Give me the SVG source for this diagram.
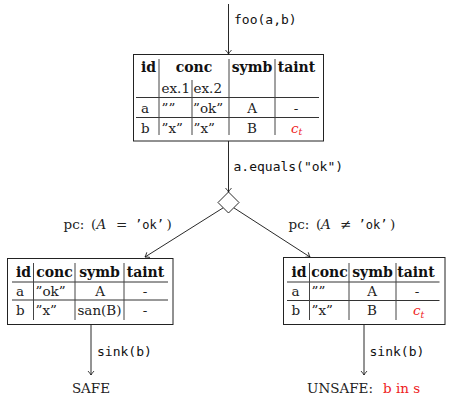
<svg xmlns="http://www.w3.org/2000/svg" width="449" height="403" viewBox="0 0 449 403">
<style>
.t{font-family:"DejaVu Serif","Liberation Serif",serif;font-size:13.5px;fill:#222}
.h{font-family:"DejaVu Serif","Liberation Serif",serif;font-size:14px;font-weight:bold;fill:#111}
.m{font-family:"DejaVu Sans Mono","Liberation Mono",monospace;font-size:13px;fill:#111}
.ms{font-family:"DejaVu Sans Mono","Liberation Mono",monospace;font-size:12px;fill:#111}
.mid{text-anchor:middle}
.red{fill:#ee2222}
.box{fill:#fff;stroke:#222;stroke-width:1}
.rule{stroke:#333;stroke-width:1}
.vl{stroke:#444;stroke-width:1}
.edge{fill:none;stroke:#111;stroke-width:0.9;marker-end:url(#ah)}
</style>
<defs>
<marker id="ah" viewBox="-5 -4 6 8" refX="0" refY="0" markerWidth="6" markerHeight="8" orient="auto" markerUnits="userSpaceOnUse">
<path d="M-4,-3 Q-1.5,-0.8 0,0 Q-1.5,0.8 -4,3" fill="none" stroke="#111" stroke-width="0.8"/>
</marker>
</defs>

<g id="connectors">
<path class="edge" d="M228.5,4 L228.5,54"/>
<path class="edge" d="M228.5,141 L228.5,192"/>
<path class="edge" d="M223.2,207.8 L145,257"/>
<path class="edge" d="M233.8,207.8 L310,257"/>
<path class="edge" d="M91,325 L91,375"/>
<path class="edge" d="M364,325 L364,375"/>
<text class="m" x="234" y="24">foo(a,b)</text>
<text class="m" x="233.5" y="171">a.equals("ok")</text>
<text class="t" y="229"><tspan x="63.5">pc:</tspan><tspan x="91">(</tspan><tspan x="96.5" font-style="italic">A</tspan><tspan x="116">=</tspan></text>
<text class="ms" x="135" y="229">’ok’</text>
<text class="t" x="166.5" y="229">)</text>
<text class="t" y="229"><tspan x="288.5">pc:</tspan><tspan x="316">(</tspan><tspan x="321" font-style="italic">A</tspan><tspan x="340">≠</tspan></text>
<text class="ms" x="358.5" y="229">’ok’</text>
<text class="t" x="390" y="229">)</text>
<text class="m" x="97" y="355.5">sink(b)</text>
<text class="m" x="369.5" y="355.5">sink(b)</text>
</g>

<g id="state-init">
<rect class="box" x="133.5" y="54.5" width="190" height="86.5"/>
<line class="rule" x1="136" y1="97.5" x2="319" y2="97.5"/>
<line class="rule" x1="136" y1="117.5" x2="319" y2="117.5"/>
<line class="vl" x1="159" y1="59" x2="159" y2="135"/>
<line class="vl" x1="192" y1="80" x2="192" y2="135"/>
<line class="vl" x1="229" y1="59" x2="229" y2="135"/>
<line class="vl" x1="275" y1="59" x2="275" y2="135"/>
<text class="h mid" x="148.5" y="72">id</text>
<text class="h mid" x="194" y="72">conc</text>
<text class="h mid" x="252" y="72">symb</text>
<text class="h mid" x="296.5" y="72">taint</text>
<text class="t" x="161.5" y="92.5">ex.1</text>
<text class="t" x="193.5" y="92.5">ex.2</text>
<text class="t" x="141" y="112.5">a</text>
<text class="t" x="161.5" y="112.5">””</text>
<text class="t" x="193" y="112.5">”ok”</text>
<text class="t mid" x="252" y="112.5">A</text>
<text class="t mid" x="296" y="112.5">-</text>
<text class="t" x="141" y="132.5">b</text>
<text class="t" x="161.5" y="132.5">”x”</text>
<text class="t" x="193.5" y="132.5">”x”</text>
<text class="t mid" x="252" y="132.5">B</text>
<text class="t red" x="291" y="132.5"><tspan font-style="italic">c</tspan><tspan font-style="italic" font-size="9.5px" dy="2.5">t</tspan></text>
</g>

<g id="branch">
<polygon points="228.5,192 239,202.5 228.5,213 218,202.5" fill="#fff" stroke="#111" stroke-width="0.9"/>
</g>

<g id="state-safe">
<rect class="box" x="7.5" y="258.5" width="165.5" height="66"/>
<line class="rule" x1="12" y1="282" x2="168" y2="282"/>
<line class="rule" x1="12" y1="300" x2="168" y2="300"/>
<line class="vl" x1="33.5" y1="263" x2="33.5" y2="320"/>
<line class="vl" x1="75" y1="263" x2="75" y2="320"/>
<line class="vl" x1="124" y1="263" x2="124" y2="320"/>
<text class="h mid" x="23.5" y="277">id</text>
<text class="h mid" x="54.5" y="277">conc</text>
<text class="h mid" x="99.5" y="277">symb</text>
<text class="h mid" x="145.5" y="277">taint</text>
<text class="t" x="16" y="295.5">a</text>
<text class="t" x="35.5" y="295.5">”ok”</text>
<text class="t mid" x="100" y="295.5">A</text>
<text class="t mid" x="145" y="295.5">-</text>
<text class="t" x="16" y="315">b</text>
<text class="t" x="35.5" y="315">”x”</text>
<text class="t mid" x="99.5" y="315">san(B)</text>
<text class="t mid" x="145" y="315">-</text>
</g>

<g id="state-unsafe">
<rect class="box" x="283.5" y="257.5" width="161.5" height="67"/>
<line class="rule" x1="287" y1="282" x2="439.5" y2="282"/>
<line class="rule" x1="287" y1="300.5" x2="439.5" y2="300.5"/>
<line class="vl" x1="309.5" y1="263" x2="309.5" y2="320"/>
<line class="vl" x1="349" y1="263" x2="349" y2="320"/>
<line class="vl" x1="396" y1="263" x2="396" y2="320"/>
<text class="h mid" x="299" y="276.5">id</text>
<text class="h mid" x="329.5" y="276.5">conc</text>
<text class="h mid" x="372.5" y="276.5">symb</text>
<text class="h mid" x="416" y="276.5">taint</text>
<text class="t" x="291.5" y="295.5">a</text>
<text class="t" x="311.5" y="295.5">””</text>
<text class="t mid" x="372" y="295.5">A</text>
<text class="t mid" x="417" y="295.5">-</text>
<text class="t" x="291.5" y="315">b</text>
<text class="t" x="311.5" y="315">”x”</text>
<text class="t mid" x="372" y="315">B</text>
<text class="t red" x="413" y="315"><tspan font-style="italic">c</tspan><tspan font-style="italic" font-size="9.5px" dy="2.5">t</tspan></text>
</g>

<g id="result-safe">
<text class="t mid" x="91" y="393" font-size="14px">SAFE</text>
</g>

<g id="result-unsafe">
<text class="t" y="393" font-size="14px"><tspan x="307">UNSAFE:</tspan><tspan x="383" class="red">b in s</tspan></text>
</g>
</svg>
